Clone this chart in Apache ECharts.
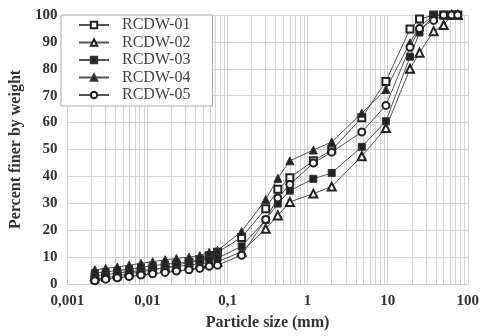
<!DOCTYPE html>
<html>
<head>
<meta charset="utf-8">
<script src="https://cdn.jsdelivr.net/npm/echarts@6/dist/echarts.min.js"></script>
<style>
  html, body { margin: 0; padding: 0; background: #fff; }
  #chart { width: 482px; height: 336px; }
</style>
</head>
<body>
<div id="chart"></div>
<script>
// particle sizes (mm): hydrometer readings then sieves
const sizes = [0.0022, 0.003, 0.0042, 0.0059, 0.0083, 0.0116, 0.0166, 0.023, 0.033, 0.045, 0.059, 0.075,
               0.15, 0.3, 0.425, 0.6, 1.18, 2, 4.75, 9.5, 19, 25, 37.5, 50, 63, 75];

const rcdw01 = [1.8, 2.4, 3.0, 3.8, 4.5, 5.3, 6.0, 7.0, 8.0, 9.0, 10.5, 11.8,
                17.3, 28, 35.2, 39.5, 45.8, 49.8, 61.8, 75.3, 94.8, 98.5, 100, 100, 100, 100];
const rcdw02 = [3.0, 3.5, 4.0, 4.5, 5.0, 5.5, 6.0, 6.5, 7.0, 7.5, 8.0, 8.3,
                12, 20.5, 25.5, 30.5, 33.6, 36.2, 47.5, 58, 80, 86, 94, 96.3, 100, 100];
const rcdw03 = [4.0, 4.5, 5.0, 5.5, 6.2, 6.8, 7.3, 7.8, 8.3, 8.8, 9.2, 9.6,
                14, 23.8, 29.9, 34.7, 39.1, 41.3, 51, 60.5, 84.5, 93.5, 100, 100, 100, 100];
const rcdw04 = [5.3, 5.8, 6.3, 7.0, 7.7, 8.3, 9.0, 9.5, 10.0, 10.6, 11.8, 12.5,
                19.5, 31.4, 39.3, 45.8, 49.8, 52.8, 63.5, 72.3, 89.7, 95.6, 100, 100, 100, 100];
const rcdw05 = [1.2, 1.8, 2.3, 2.8, 3.3, 3.8, 4.3, 4.8, 5.3, 5.8, 6.6, 7.0,
                10.7, 24, 32, 37, 45, 49, 56.5, 66.4, 88, 95, 98, 100, 100, 100];

const names = ['RCDW-01', 'RCDW-02', 'RCDW-03', 'RCDW-04', 'RCDW-05'];
const values = [rcdw01, rcdw02, rcdw03, rcdw04, rcdw05];
const symbols = ['emptyRect', 'emptyTriangle', 'rect', 'triangle', 'emptyCircle'];
const symbolSizes = [7, 8, 7, 8, 7];

const serif = '"Liberation Serif", "DejaVu Serif", serif';

let myChart = echarts.init(document.getElementById('chart'));

let series = names.map((n, k) => ({
    name: n,
    type: 'line',
    data: sizes.map((s, i) => [s, values[k][i]]),
    symbol: symbols[k],
    symbolSize: symbolSizes[k],
    showAllSymbol: true,
    lineStyle: { color: '#555', width: 1 },
    itemStyle: { color: '#222', borderColor: '#333', borderWidth: 1 },
    animation: false
}));

myChart.setOption({
    backgroundColor: '#fff',
    grid: { left: 61, right: 12, top: 15, bottom: 50 },
    legend: {
        left: 61,
        top: 15,
        orient: 'vertical',
        data: names,
        itemWidth: 30,
        itemHeight: 8,
        itemGap: 1.5,
        padding: [2, 22, 3, 17],
        backgroundColor: '#fff',
        borderColor: '#aaa',
        borderWidth: 1,
        borderRadius: 0,
        textStyle: { fontFamily: serif, fontSize: 16, color: '#444', padding: [0, 0, 0, 8] }
    },
    xAxis: {
        type: 'log',
        logBase: 10,
        min: 0.001,
        max: 100,
        name: 'Particle size (mm)',
        nameLocation: 'middle',
        nameGap: 31,
        nameTextStyle: { fontFamily: serif, fontSize: 16, fontWeight: 'bold', color: '#333' },
        axisLine: { lineStyle: { color: '#ccc' } },
        axisTick: { show: false },
        axisLabel: {
            fontFamily: serif, fontSize: 15, fontWeight: 'bold', color: '#333', margin: 10,
            formatter: v => String(Number(v.toPrecision(6))).replace('.', ',')
        },
        splitLine: { show: true, lineStyle: { color: '#d4d4d4' } },
        minorTick: { show: false, splitNumber: 9 },
        minorSplitLine: { show: true, lineStyle: { color: '#d4d4d4' } }
    },
    yAxis: {
        type: 'value',
        min: 0,
        max: 100,
        interval: 10,
        name: 'Percent finer by weight',
        nameLocation: 'middle',
        nameGap: 34,
        nameTextStyle: { fontFamily: serif, fontSize: 16, fontWeight: 'bold', color: '#333' },
        axisLine: { show: true, lineStyle: { color: '#ccc' } },
        axisTick: { show: false },
        axisLabel: { fontFamily: serif, fontSize: 15, fontWeight: 'bold', color: '#333', margin: 10 },
        splitLine: { show: true, lineStyle: { color: '#d4d4d4' } }
    },
    series: series
});
</script>
</body>
</html>
